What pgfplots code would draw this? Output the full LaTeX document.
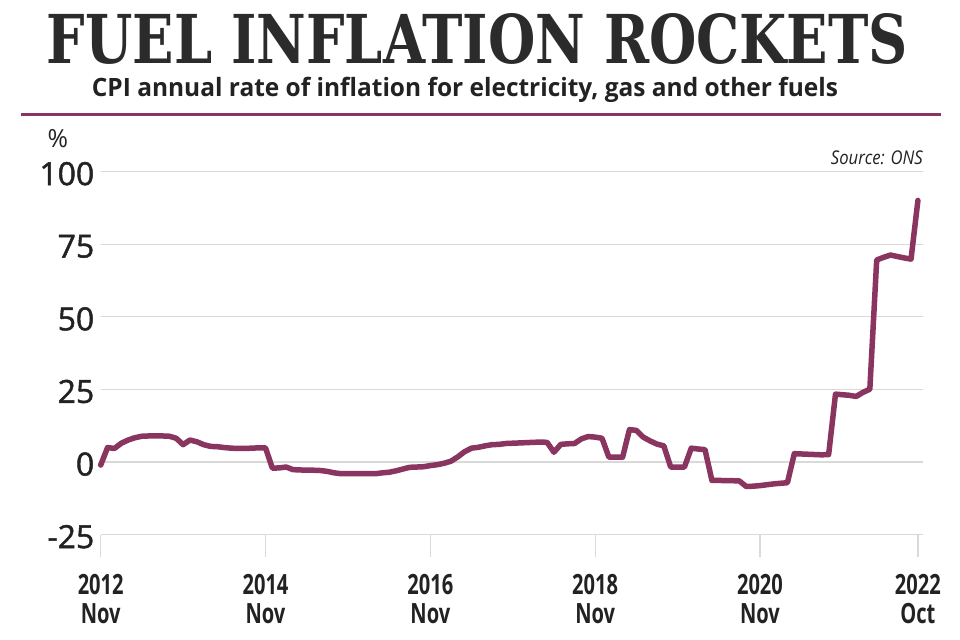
\documentclass[border=0pt]{standalone}
\usepackage{fontspec}
\usepackage{pgfplots}
\usepackage{pgfplotstable}
\pgfplotsset{compat=1.18}
\setmainfont{Open Sans}
\newfontfamily\condfont{Open Sans}[FakeStretch=0.72]
\newfontfamily\srcfont{Open Sans}[FakeStretch=0.88]
\newfontfamily\tickfont{Open Sans}[FakeBold=1.5]
\newfontfamily\titlefont{DejaVu Serif}
\definecolor{maroon}{HTML}{8A3560}
\definecolor{textdark}{HTML}{222222}
\definecolor{titledark}{HTML}{2B2B2B}
\definecolor{gridgray}{HTML}{D9D9D9}

\pgfplotstableread{
m v
0 -1.0
1 5.0
2 4.7
3 6.5
4 7.6
5 8.4
6 8.9
7 9.0
8 9.0
9 9.0
10 8.9
11 8.2
12 6.0
13 7.6
14 7.0
15 6.0
16 5.4
17 5.3
18 5.0
19 4.8
20 4.7
21 4.7
22 4.8
23 4.9
24 4.9
25 -2.1
26 -2.0
27 -1.7
28 -2.6
29 -2.7
30 -2.8
31 -2.8
32 -2.9
33 -3.2
34 -3.7
35 -4.0
36 -4.0
37 -4.0
38 -4.0
39 -4.0
40 -4.0
41 -3.7
42 -3.5
43 -3.0
44 -2.4
45 -1.8
46 -1.7
47 -1.6
48 -1.2
49 -0.9
50 -0.4
51 0.3
52 1.8
53 3.6
54 4.8
55 5.1
56 5.6
57 6.0
58 6.1
59 6.4
60 6.5
61 6.6
62 6.7
63 6.8
64 6.9
65 6.8
66 3.4
67 6.1
68 6.3
69 6.4
70 8.0
71 8.8
72 8.6
73 8.2
74 1.7
75 1.7
76 1.7
77 11.2
78 10.9
79 8.6
80 7.3
81 6.2
82 5.6
83 -1.7
84 -1.7
85 -1.7
86 4.8
87 4.5
88 4.3
89 -6.3
90 -6.3
91 -6.4
92 -6.4
93 -6.5
94 -8.4
95 -8.3
96 -8.1
97 -7.8
98 -7.5
99 -7.3
100 -7.1
101 2.9
102 2.8
103 2.7
104 2.6
105 2.5
106 2.6
107 23.4
108 23.2
109 23.0
110 22.6
111 24.0
112 25.1
113 69.6
114 70.5
115 71.3
116 70.8
117 70.3
118 69.9
119 90.1
}\fueldata

\begin{document}
\begin{tikzpicture}[x=1bp,y=1bp]
\useasboundingbox (0,0) rectangle (960,640);
\fill[white] (0,0) rectangle (960,640);
% title
\node[anchor=south, inner sep=0, text=titledark] at (477.5,575)
  {\resizebox{861bp}{50bp}{\titlefont\bfseries FUEL INFLATION ROCKETS}};
% subtitle
\node[anchor=base, inner sep=0, text=textdark] at (465,543)
  {\resizebox{746bp}{19.3bp}{\condfont\bfseries CPI annual rate of inflation for electricity, gas and other fuels}};
% rule
\draw[maroon, line width=3bp] (21,525) -- (941,525);
% percent sign
\node[anchor=center, text=textdark] at (58,501) {\fontsize{25}{25}\selectfont\%};
% source
\node[anchor=east, inner sep=0, text=textdark] at (923,482) {\srcfont\itshape\fontsize{19}{19}\selectfont Source: ONS};

\begin{axis}[
  at={(100.7bp,105.3bp)}, anchor=south west,
  scale only axis, width=822bp, height=363bp,
  xmin=0, xmax=119.7, ymin=-25, ymax=100,
  axis lines*=left, axis line style={draw=none},
  ytick={-25,0,25,50,75,100},
  xtick={0,24,48,72,96,119},
  xticklabels={{2012\\Nov},{2014\\Nov},{2016\\Nov},{2018\\Nov},{2020\\Nov},{2022\\Oct}},
  xticklabel style={align=center, yshift=-14bp, font=\condfont\bfseries\fontsize{28}{29.5}\selectfont, text=textdark},
  yticklabel style={xshift=-3bp, yshift=-2bp, font=\tickfont\fontsize{32}{32}\selectfont, text=textdark},
  /pgf/number format/assume math mode=true,
  ymajorgrids, grid style={gridgray, line width=1.2bp},
  major y tick style={draw=none},
  major x tick style={gridgray, line width=1.2bp},
  xtick align=outside, major tick length=22bp,
  clip=false,
]
\addplot[maroon, line width=5.5bp, line join=round, line cap=round] table[x=m,y=v] {\fueldata};
\end{axis}
\end{tikzpicture}
\end{document}
